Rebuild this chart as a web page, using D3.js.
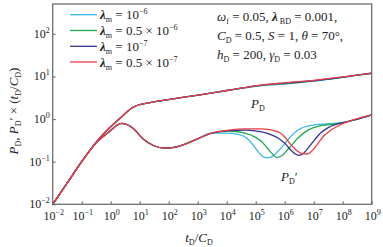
<!DOCTYPE html>
<html>
<head>
<meta charset="utf-8">
<script src="https://cdn.jsdelivr.net/npm/d3@7"></script>
<style>
  body { margin: 0; background: #fff; }
  svg { display: block; font-family: "Liberation Serif", "DejaVu Serif", serif; }
</style>
</head>
<body>
<div id="chart"></div>
<script>
// exponents of the decade ticks
const xTickExps = [-2, -1, 0, 1, 2, 3, 4, 5, 6, 7, 8, 9];
const yTickExps = [-2, -1, 0, 1, 2];

// legend: lambda_m values
const lambdaBase = ["10", "0.5 \u00d7 10", "10", "0.5 \u00d7 10"];
const lambdaExp = ["\u22126", "\u22126", "\u22127", "\u22127"];
const colors = ["#38b7ec", "#1fa84f", "#33338f", "#ee3b45"];

// curves as [log10(tD/CD), log10(value)]
// early part is the same for all four cases
const pdEarly = [[-2, -2], [-1.5, -1.5], [-1, -1], [-0.5, -0.54], [0, -0.18], [0.32, 0.02],
  [0.78, 0.28], [1.36, 0.385], [1.93, 0.45], [3.08, 0.57], [4, 0.67]];
const pdCyan = [[5, 0.77], [5.5, 0.80], [6, 0.82], [6.5, 0.855], [7, 0.89], [7.5, 0.93], [8, 0.98], [8.5, 1.03], [9, 1.075]];
const pdGreen = [[5, 0.775], [5.5, 0.81], [6, 0.83], [6.5, 0.86], [7, 0.895], [7.5, 0.935], [8, 0.98], [8.5, 1.03], [9, 1.075]];
const pdBlue = [[5, 0.78], [5.5, 0.82], [6, 0.845], [6.5, 0.87], [7, 0.90], [7.5, 0.94], [8, 0.985], [8.5, 1.03], [9, 1.075]];
const pdRed = [[5, 0.78], [5.5, 0.82], [6, 0.85], [6.5, 0.88], [7, 0.91], [7.5, 0.95], [8, 0.99], [8.5, 1.03], [9, 1.075]];

const dEarly = [[-2, -2], [-1.5, -1.5], [-1, -1], [-0.5, -0.56], [0, -0.27], [0.2, -0.15],
  [0.38, -0.10], [0.6, -0.14], [0.78, -0.22], [1.12, -0.47], [1.47, -0.62], [1.87, -0.68],
  [2.28, -0.65], [2.91, -0.49], [3.48, -0.33]];
const dCyan = [[4.0, -0.33], [4.4, -0.36], [4.7, -0.45], [4.9, -0.6], [5.1, -0.78], [5.25, -0.88],
  [5.42, -0.91], [5.6, -0.86], [5.85, -0.70], [6.15, -0.45], [6.5, -0.24], [6.9, -0.15],
  [7.5, -0.11], [8.1, -0.07], [8.4, -0.02], [9, 0.10]];
const dGreen = [[4.06, -0.28], [4.63, -0.33], [5.0, -0.43], [5.21, -0.53], [5.4, -0.68], [5.55, -0.80],
  [5.72, -0.90], [5.9, -0.86], [6.15, -0.68], [6.45, -0.45], [6.8, -0.26], [7.2, -0.16],
  [7.7, -0.12], [8.1, -0.07], [8.4, -0.02], [9, 0.10]];
const dBlue = [[4.06, -0.27], [4.63, -0.26], [5.21, -0.30], [5.5, -0.36], [5.78, -0.45], [6.01, -0.57],
  [6.2, -0.72], [6.35, -0.81], [6.48, -0.85], [6.65, -0.80], [6.9, -0.60], [7.22, -0.34],
  [7.5, -0.20], [7.8, -0.12], [8.1, -0.07], [8.4, -0.02], [9, 0.10]];
const dRed = [[4.06, -0.26], [4.63, -0.23], [5.21, -0.23], [5.78, -0.30], [6.0, -0.42], [6.18, -0.57],
  [6.4, -0.73], [6.6, -0.81], [6.78, -0.82], [6.95, -0.74], [7.15, -0.57], [7.33, -0.41],
  [7.55, -0.28], [7.79, -0.18], [8.1, -0.08], [8.4, -0.01], [9, 0.10]];

const pdTails = [pdCyan, pdGreen, pdBlue, pdRed];
const dTails = [dCyan, dGreen, dBlue, dRed];

const width = 383, height = 247;
const plotLeft = 52.7, plotRight = 371.7, plotTop = 4, plotBottom = 204.3;

const svg = d3.select('#chart').append('svg')
    .attr('width', width)
    .attr('height', height);

const xScale = d3.scaleLog().domain([1e-2, 1e9]).range([plotLeft, plotRight]);
const yScale = d3.scaleLog().domain([1e-2, Math.pow(10, 2.7)]).range([plotBottom, plotTop]);

const line = d3.line()
    .x(d => xScale(Math.pow(10, d[0])))
    .y(d => yScale(Math.pow(10, d[1])))
    .curve(d3.curveMonotoneX);

// curves, red drawn last so it sits on top
const plot = svg.append('g');
for (let i = 0; i < 4; i++) {
    plot.append('path')
        .attr('d', line(pdEarly.concat(pdTails[i])))
        .attr('fill', 'none')
        .attr('stroke', colors[i])
        .attr('stroke-width', 1.3);
    plot.append('path')
        .attr('d', line(dEarly.concat(dTails[i])))
        .attr('fill', 'none')
        .attr('stroke', colors[i])
        .attr('stroke-width', 1.3);
}

// frame
svg.append('rect')
    .attr('x', plotLeft).attr('y', plotTop)
    .attr('width', plotRight - plotLeft).attr('height', plotBottom - plotTop)
    .attr('fill', 'none')
    .attr('stroke', '#6e6e6e')
    .attr('stroke-width', 1.3);

// inward ticks
svg.append('g')
    .attr('transform', `translate(0,${plotBottom})`)
    .call(d3.axisBottom(xScale)
        .tickValues(xTickExps.map(e => Math.pow(10, e)))
        .tickSizeInner(-3).tickSizeOuter(0).tickFormat(''));
svg.append('g')
    .attr('transform', `translate(${plotLeft},0)`)
    .call(d3.axisLeft(yScale)
        .tickValues(yTickExps.map(e => Math.pow(10, e)))
        .tickSizeInner(-3).tickSizeOuter(0).tickFormat(''));
svg.selectAll('.domain').remove();
svg.selectAll('.tick line').attr('stroke', '#6e6e6e').attr('stroke-width', 1.1);

function expText(e) {
    return e < 0 ? '\u2212' + (-e) : String(e);
}

// x tick labels
xTickExps.forEach(e => {
    const t = svg.append('text')
        .attr('x', xScale(Math.pow(10, e)) + 1)
        .attr('y', plotBottom + 16)
        .attr('text-anchor', 'middle')
        .attr('font-size', 12)
        .attr('fill', '#222');
    t.append('tspan').text('10');
    t.append('tspan').attr('dy', -5).attr('font-size', 8).text(expText(e));
});

// y tick labels
yTickExps.forEach(e => {
    const t = svg.append('text')
        .attr('x', plotLeft - 3)
        .attr('y', yScale(Math.pow(10, e)) + 4)
        .attr('text-anchor', 'end')
        .attr('font-size', 12)
        .attr('fill', '#222');
    t.append('tspan').text('10');
    t.append('tspan').attr('dy', -5).attr('font-size', 8).text(expText(e));
});

// text made of pieces: [text, style], style 'i', 'b', 's' (sub), 'p' (sup) or ''
function rich(sel, parts, size) {
    let shift = 0;
    parts.forEach(p => {
        const ts = sel.append('tspan').text(p[0]);
        let target = 0;
        if (p[1] === 's') { target = 3; ts.attr('font-size', size * 0.62); }
        else if (p[1] === 'p') { target = -5; ts.attr('font-size', size * 0.62); }
        if (p[1] === 'i') ts.attr('font-style', 'italic');
        if (p[1] === 'b') ts.attr('font-style', 'italic').attr('font-weight', 'bold');
        if (target !== shift) { ts.attr('dy', target - shift); shift = target; }
    });
}

// legend
const legendRows = [14.7, 30.5, 46.3, 62];
lambdaBase.forEach((b, i) => {
    svg.append('line')
        .attr('x1', 70).attr('x2', 97)
        .attr('y1', legendRows[i]).attr('y2', legendRows[i])
        .attr('stroke', colors[i]).attr('stroke-width', 1.3);
    const t = svg.append('text')
        .attr('x', 100).attr('y', legendRows[i] + 4.5)
        .attr('font-size', 13).attr('fill', '#222');
    rich(t, [['\u03bb', 'b'], ['m', 's'], [' = ' + b, ''], [lambdaExp[i], 'p']], 13);
});

// parameters
const paramLines = [
    [['\u03c9', 'i'], ['f', 's'], [' = 0.05, ', ''], ['\u03bb', 'b'], [' BD', 's'], [' = 0.001,', '']],
    [['C', 'i'], ['D', 's'], [' = 0.5, ', ''], ['S', 'i'], [' = 1, ', ''], ['\u03b8', 'i'], [' = 70\u00b0,', '']],
    [['h', 'i'], ['D', 's'], [' = 200, ', ''], ['\u03b3', 'i'], ['D', 's'], [' = 0.03', '']]
];
const paramY = [21, 40, 59];
paramLines.forEach((pl, i) => {
    const t = svg.append('text')
        .attr('x', 217).attr('y', paramY[i])
        .attr('font-size', 13).attr('fill', '#222');
    rich(t, pl, 13);
});

// curve labels
rich(svg.append('text').attr('x', 251).attr('y', 108).attr('font-size', 13).attr('fill', '#222'),
    [['P', 'i'], ['D', 's']], 13);
rich(svg.append('text').attr('x', 281).attr('y', 181).attr('font-size', 13).attr('fill', '#222'),
    [['P', 'i'], ['D', 's'], ['\u2032', '']], 13);

// axis titles
rich(svg.append('text').attr('x', 199).attr('y', 242).attr('text-anchor', 'middle')
    .attr('font-size', 13).attr('fill', '#222'),
    [['t', 'i'], ['D', 's'], ['/', ''], ['C', 'i'], ['D', 's']], 13);

rich(svg.append('text')
    .attr('transform', 'translate(18,111) rotate(-90)')
    .attr('text-anchor', 'middle')
    .attr('font-size', 13).attr('fill', '#222'),
    [['P', 'i'], ['D', 's'], [', ', ''], ['P', 'i'], ['D', 's'], ['\u2032 \u00d7 (', ''],
     ['t', 'i'], ['D', 's'], ['/', ''], ['C', 'i'], ['D', 's'], [')', '']], 13);
</script>
</body>
</html>
